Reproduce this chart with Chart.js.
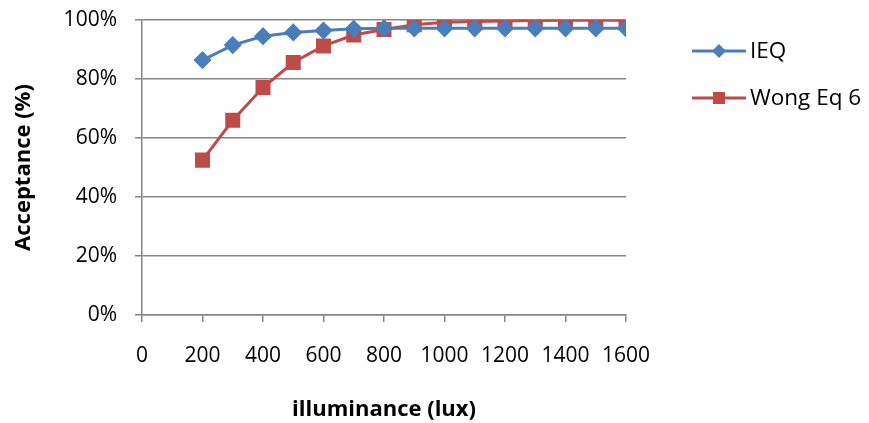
<!DOCTYPE html>
<html>
<head>
<meta charset="utf-8">
<script src="https://cdn.jsdelivr.net/npm/chart.js@4/dist/chart.umd.min.js"></script>
<style>
  html, body { margin: 0; padding: 0; background: #fff; }
  #wrap { width: 869px; height: 423px; position: relative; }
</style>
</head>
<body>
<div id="wrap"><canvas id="c" width="869" height="423"></canvas></div>
<script>
// Illuminance levels (lux)
const illuminance = [200, 300, 400, 500, 600, 700, 800, 900, 1000, 1100, 1200, 1300, 1400, 1500, 1600];
// Acceptance (%) per model
const ieq = [86.4, 91.5, 94.5, 95.8, 96.4, 97.0, 97.2, 97.2, 97.2, 97.2, 97.2, 97.2, 97.2, 97.2, 97.2];
const wongEq6 = [52.5, 66.0, 77.1, 85.6, 91.2, 94.9, 96.8, 98.4, 99.2, 99.5, 99.7, 99.8, 99.9, 99.9, 99.9];
const seriesNames = ['IEQ', 'Wong Eq 6'];
const xTicks = [0, 200, 400, 600, 800, 1000, 1200, 1400, 1600];
const yTicks = [0, 20, 40, 60, 80, 100];

const BLUE = '#4A7EBB';
const RED = '#BE4B48';
const GRID = '#868686';
const FONT = "'Open Sans', 'Liberation Sans', sans-serif";

// Legend swatch: a short line with the series marker on it
function swatch(color, shape) {
  const cv = document.createElement('canvas');
  cv.width = 56; cv.height = 16;
  const g = cv.getContext('2d');
  g.strokeStyle = color; g.lineWidth = 3;
  g.beginPath(); g.moveTo(1, 8); g.lineTo(55, 8); g.stroke();
  g.fillStyle = color;
  g.beginPath();
  if (shape === 'diamond') {
    g.moveTo(28, 1); g.lineTo(35, 8); g.lineTo(28, 15); g.lineTo(21, 8);
  } else {
    g.rect(22, 2, 12, 12);
  }
  g.closePath(); g.fill();
  return cv;
}

const legendPlugin = {
  id: 'sideLegend',
  afterDraw(chart) {
    const ctx = chart.ctx;
    const items = [
      { img: swatch(BLUE, 'diamond'), text: seriesNames[0], y: 51 },
      { img: swatch(RED, 'square'), text: seriesNames[1], y: 98 }
    ];
    ctx.save();
    ctx.font = '22.5px ' + FONT;
    ctx.fillStyle = '#000';
    ctx.textBaseline = 'middle';
    ctx.textAlign = 'left';
    items.forEach(it => {
      ctx.drawImage(it.img, 691, it.y - 8);
      ctx.fillText(it.text, 750, it.y + 1);
    });
    ctx.restore();
  }
};

new Chart(document.getElementById('c'), {
  type: 'line',
  data: {
    datasets: [
      {
        label: seriesNames[0],
        data: illuminance.map((x, i) => ({ x, y: ieq[i] })),
        borderColor: BLUE, backgroundColor: BLUE,
        borderWidth: 3, pointStyle: 'rectRot', pointRadius: 7,
        pointHoverRadius: 7, tension: 0
      },
      {
        label: seriesNames[1],
        data: illuminance.map((x, i) => ({ x, y: wongEq6[i] })),
        borderColor: RED, backgroundColor: RED,
        borderWidth: 3, pointStyle: 'rect', pointRadius: 8.5,
        pointHoverRadius: 8.5, tension: 0
      }
    ]
  },
  options: {
    responsive: false,
    animation: false,
    layout: { autoPadding: false, padding: { left: 0, right: 243, top: 20, bottom: 0 } },
    plugins: { legend: { display: false }, tooltip: { enabled: false } },
    scales: {
      x: {
        type: 'linear', min: 0, max: 1600,
        afterBuildTicks(axis) { axis.ticks = xTicks.map(v => ({ value: v })); },
        afterFit(axis) { axis.height = 108; },
        grid: { drawOnChartArea: false, drawTicks: true, tickLength: 7, color: GRID, lineWidth: 1.5 },
        border: { color: GRID, width: 1.5 },
        ticks: { color: '#000', font: { family: FONT, size: 21 }, padding: 21, maxRotation: 0, autoSkip: false,
                 callback: v => String(v) },
        title: { display: true, text: 'illuminance (lux)', color: '#000',
                 font: { family: FONT, size: 22, weight: 'bold' }, padding: { top: 10, bottom: 0 } }
      },
      y: {
        min: 0, max: 100,
        afterBuildTicks(axis) { axis.ticks = yTicks.map(v => ({ value: v })); },
        afterFit(axis) { axis.width = 142; axis.paddingTop = 12; axis.paddingBottom = 12; },
        grid: { color: GRID, lineWidth: 1.5, drawTicks: true, tickLength: 7 },
        border: { color: GRID, width: 1.5 },
        ticks: { color: '#000', font: { family: FONT, size: 21 }, padding: 18, callback: v => v + '%' },
        title: { display: true, text: 'Acceptance (%)', color: '#000',
                 font: { family: FONT, size: 22, weight: 'bold' }, padding: { top: 11, bottom: 0 } }
      }
    }
  },
  plugins: [legendPlugin]
});
</script>
</body>
</html>
